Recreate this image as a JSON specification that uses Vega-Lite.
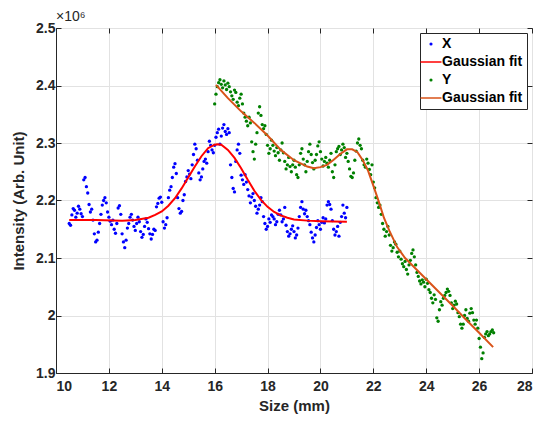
{
"$schema": "https://vega.github.io/schema/vega-lite/v6.json",
"width": 476, "height": 345,
"autosize": {"type": "none"},
"padding": {"left": 56, "top": 28, "right": 9, "bottom": 48},
"background": "white",
"title": {"text": "×10⁶", "anchor": "start", "frame": "group", "font": "Liberation Sans", "fontSize": 14, "fontWeight": "normal", "color": "#262626", "offset": -3},
"config": {
  "font": "Liberation Sans",
  "view": {"stroke": "#262626", "strokeWidth": 1},
  "axis": {"domainColor": "#262626", "tickColor": "#262626", "gridColor": "#e2e2e2", "gridWidth": 1,
    "labelFont": "Liberation Sans", "labelFontWeight": "bold", "labelFontSize": 14, "labelColor": "#262626",
    "titleFont": "Liberation Sans", "titleFontWeight": "bold", "titleFontSize": 15, "titleColor": "#262626",
    "tickSize": -5, "labelPadding": 11},
  "legend": {"orient": "top-right", "offset": 5, "strokeColor": "#262626", "fillColor": "white", "padding": 4,
    "labelFont": "Liberation Sans", "labelFontWeight": "bold", "labelFontSize": 14, "labelColor": "black", "labelOffset": 4,
    "rowPadding": 4}
},
"datasets": {
"bx": [
{"x":10.50,"y":2.160},{"x":10.55,"y":2.157},{"x":10.60,"y":2.175},{"x":10.65,"y":2.186},{"x":10.70,"y":2.183},{"x":10.75,"y":2.171},{"x":10.80,"y":2.178},{"x":10.85,"y":2.190},{"x":10.90,"y":2.185},{"x":10.95,"y":2.177},
{"x":11.00,"y":2.172},{"x":11.05,"y":2.236},{"x":11.10,"y":2.240},{"x":11.15,"y":2.224},{"x":11.20,"y":2.213},{"x":11.25,"y":2.193},{"x":11.30,"y":2.180},{"x":11.35,"y":2.185},{"x":11.40,"y":2.166},{"x":11.45,"y":2.142},
{"x":11.50,"y":2.128},{"x":11.55,"y":2.131},{"x":11.60,"y":2.145},{"x":11.65,"y":2.160},{"x":11.70,"y":2.176},{"x":11.75,"y":2.192},{"x":11.80,"y":2.200},{"x":11.85,"y":2.205},{"x":11.90,"y":2.196},{"x":11.95,"y":2.180},
{"x":12.00,"y":2.171},{"x":12.05,"y":2.164},{"x":12.10,"y":2.158},{"x":12.15,"y":2.166},{"x":12.20,"y":2.150},{"x":12.25,"y":2.143},{"x":12.30,"y":2.160},{"x":12.35,"y":2.187},{"x":12.40,"y":2.191},{"x":12.45,"y":2.176},
{"x":12.50,"y":2.142},{"x":12.55,"y":2.128},{"x":12.60,"y":2.118},{"x":12.65,"y":2.131},{"x":12.70,"y":2.152},{"x":12.75,"y":2.160},{"x":12.80,"y":2.171},{"x":12.85,"y":2.176},{"x":12.90,"y":2.166},{"x":12.95,"y":2.155},
{"x":13.00,"y":2.148},{"x":13.05,"y":2.160},{"x":13.10,"y":2.171},{"x":13.15,"y":2.163},{"x":13.20,"y":2.146},{"x":13.25,"y":2.136},{"x":13.30,"y":2.141},{"x":13.35,"y":2.155},{"x":13.40,"y":2.168},{"x":13.45,"y":2.162},
{"x":13.50,"y":2.151},{"x":13.55,"y":2.142},{"x":13.60,"y":2.133},{"x":13.65,"y":2.141},{"x":13.70,"y":2.150},{"x":13.75,"y":2.148},{"x":13.80,"y":2.189},{"x":13.85,"y":2.195},{"x":13.90,"y":2.204},{"x":13.95,"y":2.206},
{"x":14.00,"y":2.197},{"x":14.05,"y":2.163},{"x":14.10,"y":2.152},{"x":14.15,"y":2.158},{"x":14.20,"y":2.170},{"x":14.25,"y":2.205},{"x":14.30,"y":2.218},{"x":14.35,"y":2.224},{"x":14.40,"y":2.240},{"x":14.45,"y":2.258},
{"x":14.50,"y":2.264},{"x":14.55,"y":2.247},{"x":14.60,"y":2.205},{"x":14.65,"y":2.186},{"x":14.70,"y":2.178},{"x":14.75,"y":2.181},{"x":14.80,"y":2.200},{"x":14.85,"y":2.210},{"x":14.90,"y":2.233},{"x":14.95,"y":2.241},
{"x":15.00,"y":2.252},{"x":15.05,"y":2.246},{"x":15.10,"y":2.238},{"x":15.15,"y":2.262},{"x":15.20,"y":2.280},{"x":15.25,"y":2.298},{"x":15.30,"y":2.290},{"x":15.35,"y":2.270},{"x":15.40,"y":2.248},{"x":15.45,"y":2.236},
{"x":15.50,"y":2.241},{"x":15.55,"y":2.255},{"x":15.60,"y":2.268},{"x":15.65,"y":2.272},{"x":15.70,"y":2.265},{"x":15.75,"y":2.285},{"x":15.80,"y":2.303},{"x":15.85,"y":2.296},{"x":15.90,"y":2.288},{"x":15.95,"y":2.283},
{"x":16.00,"y":2.296},{"x":16.05,"y":2.310},{"x":16.10,"y":2.318},{"x":16.15,"y":2.324},{"x":16.20,"y":2.298},{"x":16.25,"y":2.312},{"x":16.30,"y":2.326},{"x":16.35,"y":2.332},{"x":16.40,"y":2.320},{"x":16.45,"y":2.315},
{"x":16.50,"y":2.325},{"x":16.55,"y":2.318},{"x":16.60,"y":2.262},{"x":16.65,"y":2.240},{"x":16.70,"y":2.221},{"x":16.75,"y":2.215},{"x":16.80,"y":2.268},{"x":16.85,"y":2.288},{"x":16.90,"y":2.298},{"x":16.95,"y":2.282},
{"x":17.00,"y":2.244},{"x":17.05,"y":2.236},{"x":17.10,"y":2.228},{"x":17.15,"y":2.245},{"x":17.20,"y":2.232},{"x":17.25,"y":2.219},{"x":17.30,"y":2.208},{"x":17.35,"y":2.196},{"x":17.40,"y":2.206},{"x":17.45,"y":2.212},
{"x":17.50,"y":2.200},{"x":17.55,"y":2.190},{"x":17.60,"y":2.178},{"x":17.65,"y":2.185},{"x":17.70,"y":2.192},{"x":17.75,"y":2.205},{"x":17.80,"y":2.198},{"x":17.85,"y":2.172},{"x":17.90,"y":2.160},{"x":17.95,"y":2.150},
{"x":18.00,"y":2.155},{"x":18.05,"y":2.168},{"x":18.10,"y":2.162},{"x":18.15,"y":2.175},{"x":18.20,"y":2.172},{"x":18.25,"y":2.168},{"x":18.30,"y":2.158},{"x":18.35,"y":2.163},{"x":18.40,"y":2.176},{"x":18.45,"y":2.183},
{"x":18.50,"y":2.175},{"x":18.55,"y":2.163},{"x":18.60,"y":2.168},{"x":18.65,"y":2.188},{"x":18.70,"y":2.157},{"x":18.75,"y":2.146},{"x":18.80,"y":2.138},{"x":18.85,"y":2.142},{"x":18.90,"y":2.150},{"x":18.95,"y":2.156},
{"x":19.00,"y":2.146},{"x":19.05,"y":2.135},{"x":19.10,"y":2.140},{"x":19.15,"y":2.152},{"x":19.20,"y":2.172},{"x":19.25,"y":2.188},{"x":19.30,"y":2.198},{"x":19.35,"y":2.185},{"x":19.40,"y":2.177},{"x":19.45,"y":2.183},
{"x":19.50,"y":2.172},{"x":19.55,"y":2.165},{"x":19.60,"y":2.158},{"x":19.65,"y":2.145},{"x":19.70,"y":2.135},{"x":19.75,"y":2.128},{"x":19.80,"y":2.140},{"x":19.85,"y":2.153},{"x":19.90,"y":2.165},{"x":19.95,"y":2.158},
{"x":20.00,"y":2.150},{"x":20.05,"y":2.162},{"x":20.10,"y":2.170},{"x":20.15,"y":2.161},{"x":20.20,"y":2.168},{"x":20.25,"y":2.192},{"x":20.30,"y":2.198},{"x":20.35,"y":2.193},{"x":20.40,"y":2.185},{"x":20.45,"y":2.165},
{"x":20.50,"y":2.150},{"x":20.55,"y":2.140},{"x":20.60,"y":2.146},{"x":20.65,"y":2.155},{"x":20.70,"y":2.138},{"x":20.75,"y":2.162},{"x":20.80,"y":2.172},{"x":20.85,"y":2.192},{"x":20.90,"y":2.178},{"x":20.95,"y":2.170},
{"x":21.00,"y":2.188}
],
"fx": [
{"x":10.5,"y":2.166},{"x":11.5,"y":2.166},{"x":12.5,"y":2.165},{"x":13.0,"y":2.166},{"x":13.5,"y":2.170},{"x":13.75,"y":2.175},{"x":14.0,"y":2.181},{"x":14.25,"y":2.191},{"x":14.5,"y":2.204},{"x":14.75,"y":2.221},
{"x":15.0,"y":2.240},{"x":15.25,"y":2.259},{"x":15.5,"y":2.277},{"x":15.75,"y":2.291},{"x":16.0,"y":2.297},{"x":16.1,"y":2.298},{"x":16.25,"y":2.297},{"x":16.5,"y":2.288},{"x":16.75,"y":2.274},{"x":17.0,"y":2.256},
{"x":17.25,"y":2.236},{"x":17.5,"y":2.217},{"x":17.75,"y":2.201},{"x":18.0,"y":2.189},{"x":18.25,"y":2.180},{"x":18.5,"y":2.174},{"x":18.75,"y":2.170},{"x":19.0,"y":2.167},{"x":19.5,"y":2.165},{"x":20.0,"y":2.164},{"x":21.0,"y":2.163}
],
"gy": [
{"x":16.00,"y":2.368},{"x":16.05,"y":2.385},{"x":16.10,"y":2.398},{"x":16.15,"y":2.405},{"x":16.20,"y":2.410},{"x":16.25,"y":2.402},{"x":16.30,"y":2.396},{"x":16.35,"y":2.408},{"x":16.40,"y":2.401},{"x":16.45,"y":2.393},
{"x":16.50,"y":2.404},{"x":16.55,"y":2.398},{"x":16.60,"y":2.389},{"x":16.65,"y":2.382},{"x":16.70,"y":2.376},{"x":16.75,"y":2.392},{"x":16.80,"y":2.388},{"x":16.85,"y":2.371},{"x":16.90,"y":2.365},{"x":16.95,"y":2.378},
{"x":17.00,"y":2.385},{"x":17.05,"y":2.368},{"x":17.10,"y":2.352},{"x":17.15,"y":2.345},{"x":17.20,"y":2.338},{"x":17.25,"y":2.330},{"x":17.30,"y":2.345},{"x":17.35,"y":2.335},{"x":17.40,"y":2.302},{"x":17.45,"y":2.285},
{"x":17.50,"y":2.272},{"x":17.55,"y":2.298},{"x":17.60,"y":2.318},{"x":17.65,"y":2.352},{"x":17.70,"y":2.363},{"x":17.75,"y":2.348},{"x":17.80,"y":2.332},{"x":17.85,"y":2.325},{"x":17.90,"y":2.330},{"x":17.95,"y":2.315},
{"x":18.00,"y":2.296},{"x":18.05,"y":2.282},{"x":18.10,"y":2.290},{"x":18.15,"y":2.305},{"x":18.20,"y":2.296},{"x":18.25,"y":2.286},{"x":18.30,"y":2.278},{"x":18.35,"y":2.292},{"x":18.40,"y":2.283},{"x":18.45,"y":2.270},
{"x":18.50,"y":2.288},{"x":18.55,"y":2.300},{"x":18.60,"y":2.283},{"x":18.65,"y":2.268},{"x":18.70,"y":2.255},{"x":18.75,"y":2.262},{"x":18.80,"y":2.275},{"x":18.85,"y":2.259},{"x":18.90,"y":2.250},{"x":18.95,"y":2.262},
{"x":19.00,"y":2.270},{"x":19.05,"y":2.258},{"x":19.10,"y":2.245},{"x":19.15,"y":2.240},{"x":19.20,"y":2.262},{"x":19.25,"y":2.282},{"x":19.30,"y":2.290},{"x":19.35,"y":2.272},{"x":19.40,"y":2.262},{"x":19.45,"y":2.250},
{"x":19.50,"y":2.268},{"x":19.55,"y":2.285},{"x":19.60,"y":2.298},{"x":19.65,"y":2.280},{"x":19.70,"y":2.266},{"x":19.75,"y":2.255},{"x":19.80,"y":2.270},{"x":19.85,"y":2.280},{"x":19.90,"y":2.295},{"x":19.95,"y":2.302},
{"x":20.00,"y":2.285},{"x":20.05,"y":2.272},{"x":20.10,"y":2.260},{"x":20.15,"y":2.268},{"x":20.20,"y":2.275},{"x":20.25,"y":2.265},{"x":20.30,"y":2.258},{"x":20.35,"y":2.270},{"x":20.40,"y":2.282},{"x":20.45,"y":2.250},
{"x":20.50,"y":2.240},{"x":20.55,"y":2.262},{"x":20.60,"y":2.285},{"x":20.65,"y":2.290},{"x":20.70,"y":2.294},{"x":20.75,"y":2.280},{"x":20.80,"y":2.288},{"x":20.85,"y":2.298},{"x":20.90,"y":2.292},{"x":20.95,"y":2.275},
{"x":21.00,"y":2.282},{"x":21.05,"y":2.268},{"x":21.10,"y":2.255},{"x":21.15,"y":2.242},{"x":21.20,"y":2.240},{"x":21.25,"y":2.248},{"x":21.30,"y":2.270},{"x":21.35,"y":2.286},{"x":21.40,"y":2.300},{"x":21.45,"y":2.307},
{"x":21.50,"y":2.296},{"x":21.55,"y":2.290},{"x":21.60,"y":2.270},{"x":21.65,"y":2.262},{"x":21.70,"y":2.258},{"x":21.75,"y":2.272},{"x":21.80,"y":2.265},{"x":21.85,"y":2.254},{"x":21.90,"y":2.245},{"x":21.95,"y":2.262},
{"x":22.00,"y":2.232},{"x":22.05,"y":2.222},{"x":22.10,"y":2.205},{"x":22.15,"y":2.196},{"x":22.20,"y":2.188},{"x":22.25,"y":2.192},{"x":22.30,"y":2.176},{"x":22.35,"y":2.160},{"x":22.40,"y":2.150},{"x":22.45,"y":2.138},
{"x":22.50,"y":2.146},{"x":22.55,"y":2.155},{"x":22.60,"y":2.140},{"x":22.65,"y":2.122},{"x":22.70,"y":2.112},{"x":22.75,"y":2.118},{"x":22.80,"y":2.128},{"x":22.85,"y":2.124},{"x":22.90,"y":2.110},{"x":22.95,"y":2.102},
{"x":23.00,"y":2.112},{"x":23.05,"y":2.098},{"x":23.10,"y":2.090},{"x":23.15,"y":2.085},{"x":23.20,"y":2.094},{"x":23.25,"y":2.080},{"x":23.30,"y":2.072},{"x":23.35,"y":2.088},{"x":23.40,"y":2.096},{"x":23.45,"y":2.108},
{"x":23.50,"y":2.114},{"x":23.55,"y":2.102},{"x":23.60,"y":2.088},{"x":23.65,"y":2.075},{"x":23.70,"y":2.068},{"x":23.75,"y":2.060},{"x":23.80,"y":2.055},{"x":23.85,"y":2.062},{"x":23.90,"y":2.058},{"x":23.95,"y":2.050},
{"x":24.00,"y":2.063},{"x":24.05,"y":2.056},{"x":24.10,"y":2.045},{"x":24.15,"y":2.040},{"x":24.20,"y":2.030},{"x":24.25,"y":2.022},{"x":24.30,"y":2.036},{"x":24.35,"y":2.028},{"x":24.40,"y":1.996},{"x":24.45,"y":1.990},
{"x":24.50,"y":2.010},{"x":24.55,"y":2.024},{"x":24.60,"y":2.018},{"x":24.65,"y":2.030},{"x":24.70,"y":2.035},{"x":24.75,"y":2.040},{"x":24.80,"y":2.046},{"x":24.85,"y":2.042},{"x":24.90,"y":2.035},{"x":24.95,"y":2.022},
{"x":25.00,"y":2.012},{"x":25.05,"y":2.018},{"x":25.10,"y":2.025},{"x":25.15,"y":2.020},{"x":25.20,"y":2.005},{"x":25.25,"y":1.998},{"x":25.30,"y":1.985},{"x":25.35,"y":1.978},{"x":25.40,"y":1.985},{"x":25.45,"y":2.000},
{"x":25.50,"y":2.010},{"x":25.55,"y":1.995},{"x":25.60,"y":1.990},{"x":25.65,"y":2.004},{"x":25.70,"y":2.012},{"x":25.75,"y":2.005},{"x":25.80,"y":1.992},{"x":25.85,"y":1.985},{"x":25.90,"y":1.992},{"x":25.95,"y":1.978},
{"x":26.00,"y":1.960},{"x":26.05,"y":1.945},{"x":26.10,"y":1.925},{"x":26.15,"y":1.935},{"x":26.20,"y":1.962},{"x":26.25,"y":1.968},{"x":26.30,"y":1.972},{"x":26.35,"y":1.965},{"x":26.40,"y":1.968},{"x":26.45,"y":1.972},
{"x":26.50,"y":1.975},{"x":26.55,"y":1.970}
],
"fy": [
{"x":16.05,"y":2.401},{"x":16.5,"y":2.378},{"x":17.0,"y":2.355},{"x":17.5,"y":2.335},{"x":18.0,"y":2.313},{"x":18.5,"y":2.288},{"x":19.0,"y":2.270},{"x":19.5,"y":2.259},{"x":19.75,"y":2.256},{"x":20.0,"y":2.258},
{"x":20.25,"y":2.262},{"x":20.5,"y":2.271},{"x":20.75,"y":2.281},{"x":21.0,"y":2.289},{"x":21.2,"y":2.289},{"x":21.4,"y":2.284},{"x":21.6,"y":2.270},{"x":21.8,"y":2.252},{"x":22.0,"y":2.226},{"x":22.2,"y":2.199},
{"x":22.4,"y":2.170},{"x":22.6,"y":2.148},{"x":22.9,"y":2.119},{"x":23.2,"y":2.100},{"x":23.5,"y":2.086},{"x":24.0,"y":2.063},{"x":24.5,"y":2.040},{"x":25.0,"y":2.017},{"x":25.5,"y":1.993},{"x":26.0,"y":1.970},{"x":26.53,"y":1.945}
]
},
"layer": [
{"data": {"name": "bx"}, "mark": {"type": "point", "filled": true, "size": 11, "opacity": 1},
 "encoding": {
  "x": {"field": "x", "type": "quantitative", "scale": {"domain": [10, 28], "nice": false}, "axis": {"title": "Size (mm)", "values": [10,12,14,16,18,20,22,24,26,28], "titlePadding": 5}},
  "y": {"field": "y", "type": "quantitative", "scale": {"domain": [1.9, 2.5], "nice": false, "zero": false}, "axis": {"title": "Intensity (Arb. Unit)", "values": [1.9,2.0,2.1,2.2,2.3,2.4,2.5], "format": "~g", "labelPadding": 6, "titlePadding": 9}},
  "color": {"datum": "X", "scale": {"domain": ["X", "Gaussian fit", "Y", "Gaussian fit "], "range": ["#0000ff", "#ff0000", "#008000", "#d95319"]},
   "legend": {"title": null,
     "symbolType": {"expr": "datum.value == 'X' || datum.value == 'Y' ? 'circle' : 'stroke'"},
     "symbolSize": {"expr": "datum.value == 'X' || datum.value == 'Y' ? 10 : 441"},
     "symbolStrokeWidth": {"expr": "datum.value == 'X' || datum.value == 'Y' ? 0 : 1.5"}}}
 }},
{"data": {"name": "fx"}, "mark": {"type": "line", "strokeWidth": 2},
 "encoding": {"x": {"field": "x", "type": "quantitative", "axis": null}, "y": {"field": "y", "type": "quantitative", "axis": null}, "color": {"datum": "Gaussian fit"}}},
{"data": {"name": "gy"}, "mark": {"type": "point", "filled": true, "size": 11, "opacity": 1},
 "encoding": {"x": {"field": "x", "type": "quantitative", "axis": null}, "y": {"field": "y", "type": "quantitative", "axis": null}, "color": {"datum": "Y"}}},
{"data": {"name": "fy"}, "mark": {"type": "line", "strokeWidth": 2},
 "encoding": {
  "x": {"field": "x", "type": "quantitative", "axis": {"orient": "top", "labels": false, "title": null, "grid": false, "domain": false, "values": [10,12,14,16,18,20,22,24,26,28]}},
  "y": {"field": "y", "type": "quantitative", "axis": {"orient": "right", "labels": false, "title": null, "grid": false, "domain": false, "values": [1.9,2.0,2.1,2.2,2.3,2.4,2.5]}},
  "color": {"datum": "Gaussian fit "}}}
],
"resolve": {"axis": {"x": "independent", "y": "independent"}}
}
